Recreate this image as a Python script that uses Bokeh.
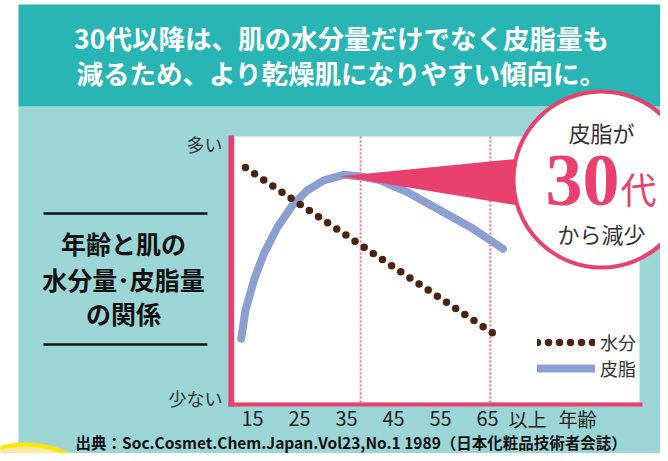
from bokeh.plotting import figure
from bokeh.models import Range1d, Legend, LegendItem
from bokeh.core.properties import value
from bokeh.embed import file_html
from bokeh.resources import INLINE

# ---------------- data ----------------
water_ages = [13.5, 38.6, 67.8]
water_values = [88.3, 58.5, 24.1]
sebum_ages = [12.6, 13.5, 15.3, 17.4, 20.3, 23.5, 26.6, 30.2, 34.4, 38.0, 42.2, 47.9, 54.3, 61.4, 68.3]
sebum_values = [24.0, 34.6, 45.9, 55.9, 65.9, 74.1, 79.7, 83.5, 85.6, 85.0, 83.5, 79.1, 72.8, 65.9, 57.8]
series_names = ["水分", "皮脂"]
x_ticks = [15, 25, 35, 45, 55, 65]
x_tick_labels = ["15", "25", "35", "45", "55", "65"]
guide_ages = [38.0, 65.6]
y_label_texts = ["多い", "少ない"]

# ---------------- layout helpers (page px -> data) ----------------
W, H, OFF = 660, 453, 0


def X(px):
    return 15 + (px - 252) / 4.7


def Y(py):
    return (402 - py) / 2.66


JP_NAME = "Noto Sans CJK JP"
JP = value(JP_NAME)
SERIF = value("Liberation Serif")
TEAL = "#2ab5b5"
PANEL = "#9bd5d5"
PINK = "#e8416f"
GUIDE = "#ef6a92"
BROWN = "#4a2410"
BLUE = "#8b9fd0"
DARK = "#333333"

p = figure(width=W, height=H, x_range=Range1d(X(OFF), X(OFF + W)),
           y_range=Range1d(Y(OFF + H), Y(OFF)),
           x_axis_type=None, y_axis_type=None, toolbar_location=None,
           output_backend="svg", min_border=0, outline_line_color=None,
           background_fill_color="white", border_fill_color="white")


def txt(px, py, s, size, color, align="center", baseline="middle", style="normal", font=JP):
    p.text(x=[X(px)], y=[Y(py)], text=[s], text_font=font, text_font_size=f"{size}px",
           text_color=color, text_align=align, text_baseline=baseline, text_font_style=style)


# backgrounds
p.quad(left=[X(18)], right=[X(680)], top=[Y(106)], bottom=[Y(470)], fill_color=PANEL, line_color=None)
p.quad(left=[X(18)], right=[X(660)], top=[Y(4)], bottom=[Y(106)], fill_color=TEAL, line_color=None)
# plot area
p.quad(left=[X(234)], right=[X(639)], top=[100], bottom=[0], fill_color="white", line_color=None)

# bottom-left yellow circle
p.scatter(x=[X(25)], y=[Y(544)], size=200, fill_color="#ffe9a0", line_color="#ffe600", line_width=4)

# dotted guides
p.segment(x0=guide_ages, x1=guide_ages, y0=[0] * len(guide_ages), y1=[100] * len(guide_ages),
          line_color=GUIDE, line_width=2, line_dash="2 2")

# axes bars
p.quad(left=[X(228)], right=[X(233.5)], top=[Y(135)], bottom=[Y(406)], fill_color=PINK, line_color=None)
p.quad(left=[X(228)], right=[X(642)], top=[Y(402)], bottom=[Y(406)], fill_color=PINK, line_color=None)

# series
r_sebum = p.line(sebum_ages, sebum_values, line_color=BLUE, line_width=8,
                 line_cap="round", line_join="round")
r_water = p.line(water_ages, water_values, line_color=BROWN, line_width=7.5,
                 line_dash="0 11", line_cap="round")

# pointer triangle from sebum peak to the bubble
peak_i = sebum_values.index(max(sebum_values))
p.patch(x=[sebum_ages[peak_i] - 0.8, X(530), X(530)], y=[sebum_values[peak_i] - 0.5, Y(157), Y(207)],
        fill_color=PINK, line_color=None)

# bubble
p.scatter(x=[X(601)], y=[Y(179)], size=176, fill_color="white", line_color=PINK, line_width=4)
txt(601, 131, "皮脂が", 22, DARK)
txt(582, 180, "30", 74, PINK, baseline="middle", style="bold", font=SERIF)
txt(638, 187, "代", 36, PINK)
txt(601, 232, "から減少", 22, DARK)

# header
txt(341, 37, "30代以降は、肌の水分量だけでなく皮脂量も", 26.5, "white", style="bold")
txt(341, 72, "減るため、より乾燥肌になりやすい傾向に。", 26.5, "white", style="bold")

# left title
p.segment(x0=[X(43), X(43)], x1=[X(207), X(207)], y0=[Y(213), Y(344)], y1=[Y(213), Y(344)],
          line_color="#111111", line_width=2.5)
txt(123, 242, "年齢と肌の", 25, "#111111", style="bold")
txt(123, 278, "水分量･皮脂量", 25, "#111111", style="bold")
txt(123, 312, "の関係", 25, "#111111", style="bold")

# y labels
p.text(x=[X(222), X(222)], y=[Y(143), Y(397)], text=y_label_texts, text_font=JP,
       text_font_size="18px", text_color=DARK, text_align="right", text_baseline="middle")

# x tick labels
p.text(x=x_ticks, y=[Y(418)] * len(x_ticks), text=x_tick_labels, text_font=JP,
       text_font_size="20px", text_color="#222222", text_align="center", text_baseline="middle")
txt(527, 418, "以上", 19, "#222222")
txt(577, 418, "年齢", 19, "#222222")

# source
txt(75, 441, "出典：Soc.Cosmet.Chem.Japan.Vol23,No.1 1989（日本化粧品技術者会誌）", 15.5, "#111111",
    align="left", style="bold")

# legend
legend = Legend(items=[LegendItem(label=series_names[0], renderers=[r_water]),
                       LegendItem(label=series_names[1], renderers=[r_sebum])],
                location=(537, 72), padding=0, margin=0, spacing=-2,
                glyph_width=58, glyph_height=20, label_height=20, label_standoff=5,
                label_text_font=JP_NAME, label_text_font_size="18px", label_text_color=DARK,
                background_fill_alpha=0, border_line_color=None)
p.add_layout(legend)

open("out.html", "w").write(file_html(p, INLINE))
